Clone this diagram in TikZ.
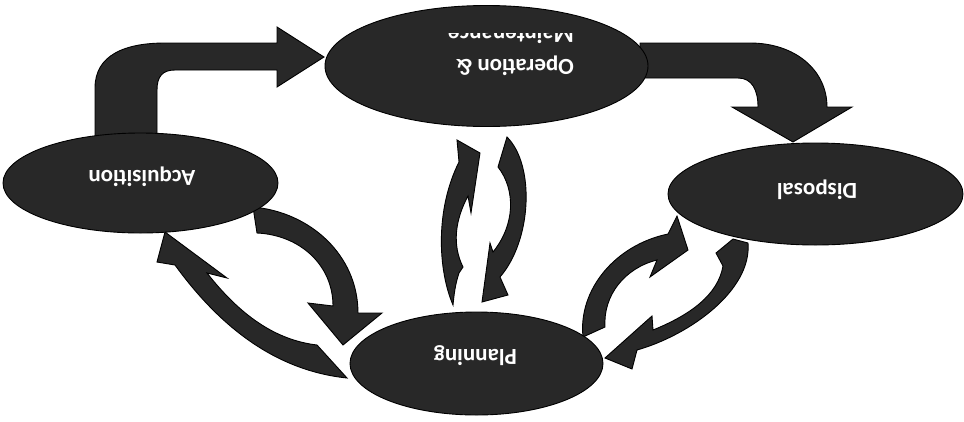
\documentclass[tikz,border=0pt]{standalone}
\usepackage{fontspec}
\setmainfont{Carlito}
\usetikzlibrary{shapes.geometric}
\definecolor{blob}{RGB}{40,40,40}
\tikzset{
  blockarrow/.style={fill=blob, draw=black, line width=0.9pt, line join=miter},
  phase/.style={ellipse, fill=blob, draw=black, line width=0.9pt, inner sep=0},
  lbl/.style={text=white, font=\fontsize{23}{28}\selectfont\bfseries, rotate=180, inner sep=0},
}
\begin{document}
\begin{tikzpicture}[x=1pt,y=-1pt]
\useasboundingbox (0,0) rectangle (964,421);
% Acquisition -> Operation (bent arrow)
\path[blockarrow] (95,140) -- (95,88) .. controls (95,55) and (125,43) .. (165,43) -- (277,43) -- (277,27) -- (324,57) -- (277,87) -- (277,70) -- (175,70) .. controls (162,70) and (157,77) .. (157,90) -- (157,140) -- cycle;
% Operation -> Disposal (bent arrow)
\path[blockarrow] (640,43) -- (750,43) .. controls (795,43) and (827,70) .. (827,107) -- (852,107) -- (793,142) -- (732,107) -- (758,107) .. controls (758,90) and (752,78) .. (738,78) -- (640,78) -- cycle;
% Acquisition -> Planning
\path[blockarrow] (253,207) .. controls (310,212) and (358,255) .. (358,313) -- (382,313) -- (343,345) -- (308,303) -- (333,306) .. controls (333,265) and (300,235) .. (257,233) -- cycle;
% Planning -> Acquisition
\path[blockarrow] (347,378) .. controls (270,370) and (215,320) .. (175,265) -- (157,262) -- (165,232) -- (227,278) -- (207,273) .. controls (240,315) and (275,340) .. (317,345) -- cycle;
% Planning -> Disposal
\path[blockarrow] (583,337) .. controls (578,290) and (615,245) .. (668,234) -- (677,216) -- (688,250) -- (650,277) -- (657,260) .. controls (625,268) and (603,295) .. (605,327) -- cycle;
% Disposal -> Planning
\path[blockarrow] (748,243) .. controls (752,290) and (690,335) .. (637,350) -- (632,369) -- (605,358) -- (652,316) -- (653,330) .. controls (690,315) and (718,295) .. (723,266) -- (716,253) -- (733,239) -- cycle;
% Planning -> Operation
\path[blockarrow] (453,305) .. controls (438,270) and (435,210) .. (459,162) -- (457,140) -- (480,153) -- (471,213) -- (468,196) .. controls (455,220) and (452,245) .. (463,267) -- (459,273) .. controls (455,285) and (454,295) .. (453,305) -- cycle;
% Operation -> Planning
\path[blockarrow] (507,137) .. controls (535,165) and (532,240) .. (500,277) -- (508,295) -- (482,302) -- (490,243) -- (493,252) .. controls (515,225) and (516,190) .. (498,167) -- cycle;
% phases
\node[phase, minimum width=323pt, minimum height=121pt] (ops) at (486.5,66) {};
\node[phase, minimum width=275pt, minimum height=100pt] (acq) at (140.5,183) {};
\node[phase, minimum width=295pt, minimum height=102pt] (dis) at (815.5,194) {};
\node[phase, minimum width=253pt, minimum height=103pt] (plan) at (476.5,363.5) {};
% labels
\node[lbl] (tacq) at (142,176.5) {Acquisition};
\node[lbl] (tdis) at (817,190) {Disposal};
\node[lbl] (tplan) at (475.5,356) {Planning};
\node[lbl] (tops) at (515,66) {Operation \&};
\begin{scope}
\clip (320,33) rectangle (650,130);
\node[lbl, anchor=base] (tmaint) at (511,27) {Maintenance};
\end{scope}
\end{tikzpicture}
\end{document}
